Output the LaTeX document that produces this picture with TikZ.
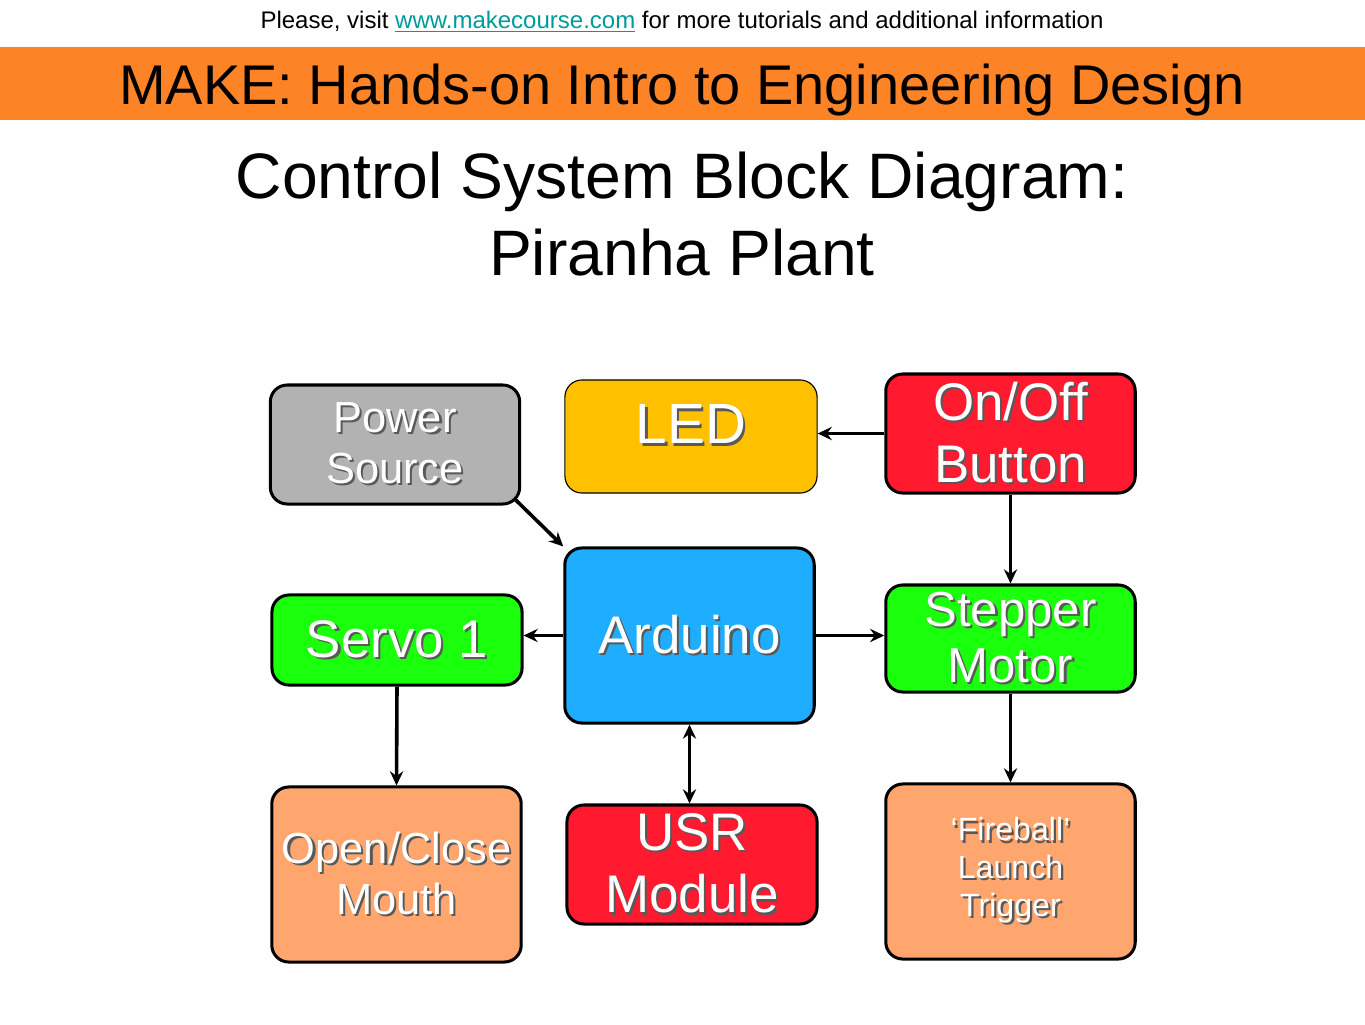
\documentclass[tikz,border=0pt]{standalone}
\usepackage{fontspec}
\setmainfont{Liberation Sans}
\usetikzlibrary{arrows.meta}
\definecolor{mkOrange}{HTML}{FD8426}
\definecolor{mkLink}{HTML}{009A9A}
\definecolor{blkGray}{HTML}{B2B2B2}
\definecolor{blkGold}{HTML}{FFC000}
\definecolor{blkRed}{HTML}{FF1A2F}
\definecolor{blkBlue}{HTML}{1EADFF}
\definecolor{blkGreen}{HTML}{1AFF0C}
\definecolor{blkSalmon}{HTML}{FFA66F}
\newcommand{\setfs}[2]{\fontsize{#1}{#2}\selectfont}
% white text with a soft drop shadow
\newcommand{\sh}[1]{\leavevmode\rlap{\kern1.2pt\raisebox{-1.2pt}{\color{black!65}#1}}{\color{white}#1}}
\tikzset{
    block/.style={draw=black,line width=1.6pt,rounded corners=9pt,align=center,minimum width=4.64cm,inner sep=2pt},
    thinblock/.style={block,line width=0.6pt},
    link/.style={-{Stealth[length=7.5pt,width=7pt,inset=2.5pt]},line width=1.9pt},
    duallink/.style={{Stealth[length=7.5pt,width=7pt,inset=2.5pt]}-{Stealth[length=7.5pt,width=7pt,inset=2.5pt]},line width=1.9pt}
}
\begin{document}
\begin{tikzpicture}[x=0.018608cm,y=-0.018608cm]
    \useasboundingbox (0,0) rectangle (1365,1024);
    % Header
    \node[anchor=base,font=\setfs{12.7}{15}] at (682,28) (visit) {Please, visit {\color{mkLink}\underline{www.makecourse.com}} for more tutorials and additional information};
    \fill[mkOrange] (0,47) rectangle (1365,120);
    \node[anchor=base,font=\setfs{29.6}{35}] at (682,104) (make) {MAKE: Hands-on Intro to Engineering Design};
    \node[anchor=base,font=\setfs{34}{40}] at (682,198) (title) {Control System Block Diagram:};
    \node[anchor=base,font=\setfs{34}{40}] at (682,275) (subtitle) {Piranha Plant};
    % Blocks
    \node[block,fill=blkGray,minimum height=2.214cm,font=\setfs{23}{27}] at (395,444.5) (power) {\sh{Power}\\\sh{Source}};
    \node[thinblock,fill=blkGold,minimum width=4.69cm,minimum height=2.103cm,font=\setfs{30}{34}] at (691,436.5) (led) {\raisebox{5.8pt}[\height][\depth]{\sh{LED}}};
    \node[block,fill=blkRed,minimum height=2.214cm,font=\setfs{28}{33}] at (1010.5,433.5) (onoff) {\sh{On/Off}\\\sh{Button}};
    \node[block,fill=blkBlue,minimum height=3.256cm,font=\setfs{28}{33}] at (689.5,635.5) (ard) {\sh{Arduino}};
    \node[block,fill=blkGreen,minimum width=4.652cm,minimum height=1.675cm,font=\setfs{28}{33}] at (397,640) (servo) {\sh{Servo 1}};
    \node[block,fill=blkGreen,minimum height=1.991cm,font=\setfs{26}{29.5}] at (1010.5,638.5) (stepper) {\sh{Stepper}\\\sh{Motor}};
    \node[block,fill=blkSalmon,minimum height=3.256cm,font=\setfs{23}{27}] at (396.5,874.5) (mouth) {\sh{Open/Close}\\\sh{Mouth}};
    \node[block,fill=blkRed,minimum width=4.652cm,minimum height=2.214cm,font=\setfs{28}{33}] at (692,864.5) (usr) {\sh{USR}\\\sh{Module}};
    \node[block,fill=blkSalmon,minimum height=3.256cm,font=\setfs{17}{20}] at (1010.5,871.5) (fire) {\sh{‘Fireball’}\\\sh{Launch}\\\sh{Trigger}};
    % Connections
    \draw[link] (power.south east) ++(-6,-6) -- (ard.north west);
    \draw[link] (onoff.west) -- (onoff.west -| led.east);
    \draw[link] (onoff.south) -- (stepper.north);
    \draw[link] (ard.west) -- (ard.west -| servo.east);
    \draw[link] (ard.east) -- (ard.east -| stepper.west);
    \draw[duallink] (ard.south) -- (ard.south |- usr.north);
    \draw[link] (servo.south) -- (mouth.north);
    \draw[link] (stepper.south) -- (fire.north);
\end{tikzpicture}
\end{document}
